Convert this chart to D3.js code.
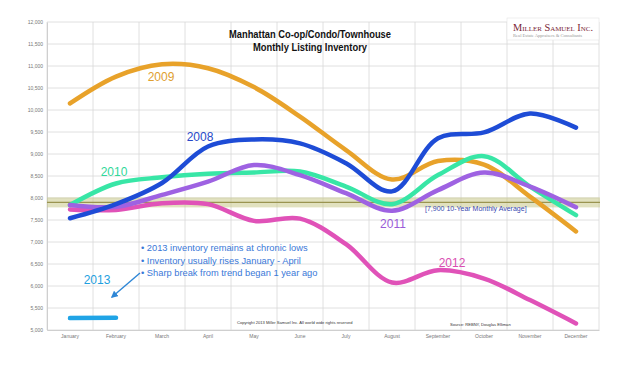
<!DOCTYPE html>
<html><head><meta charset="utf-8">
<script src="https://cdn.jsdelivr.net/npm/d3@7"></script>
<style>body{margin:0;background:#fff}svg{display:block}</style>
</head><body><svg id="c" width="640" height="385"></svg>
<script>
const months = ["January","February","March","April","May","June","July","August","September","October","November","December"];
const yTicks = [5000,5500,6000,6500,7000,7500,8000,8500,9000,9500,10000,10500,11000,11500,12000];
const s2008 = [7540,7860,8340,9170,9330,9240,8790,8150,9360,9490,9920,9600];
const s2009 = [10150,10760,11040,10950,10520,9850,9090,8420,8840,8760,8030,7240];
const s2010 = [7840,8330,8470,8550,8580,8600,8260,7860,8520,8950,8260,7610];
const s2011 = [7840,7800,8070,8370,8750,8520,8110,7710,8180,8580,8260,7790];
const s2012 = [7740,7730,7880,7860,7480,7530,6950,6080,6360,6170,5680,5150];
const s2013 = [5270,5280];
const avg = 7900;
const notes = ["• 2013 inventory remains at chronic lows","• Inventory usually rises January - April","• Sharp break from trend began 1 year ago"];

const svg = d3.select("#c");
const x = d3.scaleBand().domain(months).range([47,599]);
const y = d3.scaleLinear().domain([5000,12000]).range([330,22]);
const cx = m => x(m) + x.bandwidth()/2;

// grid
const g = svg.append("g");
g.selectAll(".h").data(yTicks).join("line")
  .attr("x1",47).attr("x2",599).attr("y1",d=>y(d)).attr("y2",d=>y(d))
  .attr("stroke","#d8d8d8").attr("stroke-width",0.8);
g.selectAll(".v").data(months.concat(["end"])).join("line")
  .attr("x1",(d,i)=>47+i*x.bandwidth()).attr("x2",(d,i)=>47+i*x.bandwidth())
  .attr("y1",y(12000)).attr("y2",y(5000))
  .attr("stroke","#d8d8d8").attr("stroke-width",0.8);

// axes
const ya = d3.axisLeft(y).tickValues(yTicks).tickSize(0).tickPadding(4).tickFormat(d3.format(","));
svg.append("g").attr("transform","translate(47,0)").call(ya)
  .call(a=>a.select(".domain").attr("stroke","#cfcfcf"))
  .selectAll("text").attr("font-family","Liberation Sans, Arial").attr("font-size",5).attr("fill","#777");
const xa = d3.axisBottom(x).tickSize(0).tickPadding(4);
svg.append("g").attr("transform","translate(0,330)").call(xa)
  .call(a=>a.select(".domain").attr("stroke","#cfcfcf"))
  .selectAll("text").attr("font-family","Liberation Sans, Arial").attr("font-size",5).attr("fill","#777");

// average band
svg.append("rect").attr("x",47).attr("width",553).attr("y",y(avg)-5).attr("height",10)
  .attr("fill","#c9c98a").attr("opacity",0.55);
svg.append("line").attr("x1",47).attr("x2",600).attr("y1",y(avg)).attr("y2",y(avg))
  .attr("stroke","#9a9450").attr("stroke-width",1.2);

// lines
const line = d3.line().x((d,i)=>cx(months[i])).y(d=>y(d)).curve(d3.curveCatmullRom.alpha(0.5));
const series = [
  {v:s2009,c:"#E8A22A"},
  {v:s2012,c:"#E052B8"},
  {v:s2010,c:"#38E6A6"},
  {v:s2011,c:"#9E62E2"},
  {v:s2008,c:"#1E4CD6"},
  {v:s2013,c:"#20A4E6"}
];
svg.selectAll(".ln").data(series).join("path")
  .attr("d",d=>line(d.v)).attr("fill","none").attr("stroke",d=>d.c)
  .attr("stroke-width",4.5).attr("stroke-linecap","round").attr("stroke-linejoin","round");

// series labels
const lab = [
  {t:"2009",x:161,y:81,c:"#E0A030"},
  {t:"2008",x:200,y:141,c:"#2748C8"},
  {t:"2010",x:114,y:176,c:"#30D89A"},
  {t:"2011",x:393,y:228,c:"#9A5CD8"},
  {t:"2012",x:452,y:267,c:"#D94EB2"},
  {t:"2013",x:97,y:284,c:"#1E9FE0"}
];
svg.selectAll(".lb").data(lab).join("text").attr("x",d=>d.x).attr("y",d=>d.y)
  .attr("text-anchor","middle").attr("font-family","Liberation Sans, Arial")
  .attr("font-size",12).attr("fill",d=>d.c).text(d=>d.t);

// avg label
svg.append("text").attr("x",425).attr("y",210.5).attr("font-family","Liberation Sans, Arial")
  .attr("font-size",7).attr("fill","#3848B0").text("[7,900 10-Year Monthly Average]");

// notes
svg.selectAll(".nt").data(notes).join("text").attr("x",141).attr("y",(d,i)=>251+i*12.5)
  .attr("font-family","Liberation Sans, Arial").attr("font-size",9.3).attr("fill","#3A78D8").text(d=>d);
// arrow
svg.append("defs").append("marker").attr("id","ah").attr("viewBox","0 0 10 10").attr("refX",8).attr("refY",5)
  .attr("markerWidth",5).attr("markerHeight",5).attr("orient","auto")
  .append("path").attr("d","M0,0L10,5L0,10z").attr("fill","#2E86D6");
svg.append("line").attr("x1",140).attr("y1",273).attr("x2",112).attr("y2",297)
  .attr("stroke","#2E86D6").attr("stroke-width",1.4).attr("marker-end","url(#ah)");

// title
svg.append("text").attr("x",310).attr("y",38).attr("text-anchor","middle").attr("font-family","Liberation Sans, Arial")
  .attr("font-weight","bold").attr("font-size",10.5).attr("fill","#111")
  .attr("textLength",162).attr("lengthAdjust","spacingAndGlyphs").text("Manhattan Co-op/Condo/Townhouse");
svg.append("text").attr("x",310).attr("y",51).attr("text-anchor","middle").attr("font-family","Liberation Sans, Arial")
  .attr("font-weight","bold").attr("font-size",10.5).attr("fill","#111")
  .attr("textLength",114).attr("lengthAdjust","spacingAndGlyphs").text("Monthly Listing Inventory");

// logo
const lg = svg.append("g");
lg.append("rect").attr("x",507).attr("y",18).attr("width",92).attr("height",22).attr("fill","#fff").attr("stroke","#e4e4e4").attr("stroke-width",0.6);
lg.append("text").attr("x",513).attr("y",31).attr("font-family","Liberation Serif, Times New Roman")
  .attr("font-size",10.5).attr("fill","#7A2636").attr("font-variant","small-caps")
  .attr("textLength",80).attr("lengthAdjust","spacingAndGlyphs").text("Miller Samuel Inc.");
lg.append("text").attr("x",513).attr("y",37).attr("font-family","Liberation Serif, Times New Roman")
  .attr("font-size",4.6).attr("fill","#999").text("Real Estate Appraisers & Consultants");

// footers
svg.append("text").attr("x",237).attr("y",324).attr("font-family","Liberation Sans, Arial").attr("font-size",4.1).attr("fill","#333")
  .text("Copyright 2013 Miller Samuel Inc.  All world wide rights reserved");
svg.append("text").attr("x",450).attr("y",326).attr("font-family","Liberation Sans, Arial").attr("font-size",4.1).attr("fill","#333")
  .text("Source: REBNY, Douglas Elliman");
</script></body></html>
